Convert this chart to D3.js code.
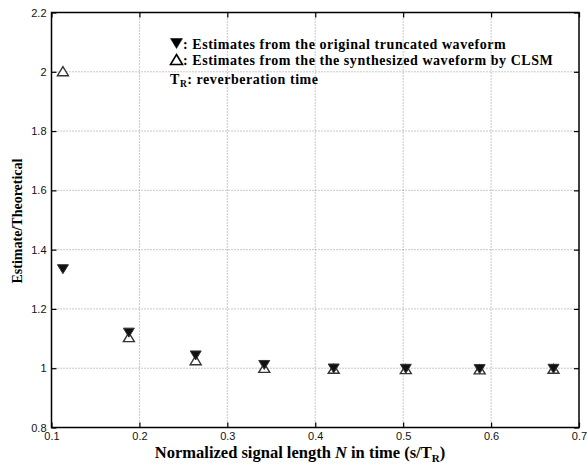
<!DOCTYPE html>
<html>
<head>
<meta charset="utf-8">
<script src="https://cdn.jsdelivr.net/npm/d3@7"></script>
<style>
  body { margin: 0; background: #fff; }
  svg { display: block; }
</style>
</head>
<body>
<div id="chart"></div>
<script>
// --- Data ---
const signalLength = [0.113, 0.188, 0.264, 0.342, 0.421, 0.503, 0.587, 0.671];
const truncatedEst = [1.334, 1.120, 1.043, 1.011, 0.999, 0.998, 0.997, 0.998];
const synthesizedEst = [2.002, 1.105, 1.027, 1.001, 0.998, 0.997, 0.996, 0.998];
const xTicks = [0.1, 0.2, 0.3, 0.4, 0.5, 0.6, 0.7];
const yTicks = [0.8, 1, 1.2, 1.4, 1.6, 1.8, 2, 2.2];
const legendLines = [
  { sym: "down", text: ": Estimates from the original truncated waveform" },
  { sym: "up", text: ": Estimates from the the synthesized waveform by CLSM" }
];

const width = 587, height = 465;
const margin = { top: 12.5, right: 8, bottom: 37.5, left: 51.5 };

const svg = d3.select("#chart").append("svg")
  .attr("width", width)
  .attr("height", height);

const x = d3.scaleLinear().domain([0.1, 0.7]).range([margin.left, width - margin.right]);
const y = d3.scaleLinear().domain([0.8, 2.2]).range([height - margin.bottom, margin.top]);

const tickFont = "'Liberation Sans', Arial, sans-serif";
const serif = "'Liberation Serif', 'Times New Roman', serif";

// grid lines (dotted)
svg.append("g")
  .selectAll("line")
  .data(xTicks.slice(1, -1))
  .join("line")
  .attr("x1", d => x(d)).attr("x2", d => x(d))
  .attr("y1", y(0.8)).attr("y2", y(2.2))
  .attr("stroke", "#777").attr("stroke-width", 0.8)
  .attr("stroke-dasharray", "1,2");

svg.append("g")
  .selectAll("line")
  .data(yTicks.slice(1, -1))
  .join("line")
  .attr("x1", x(0.1)).attr("x2", x(0.7))
  .attr("y1", d => y(d)).attr("y2", d => y(d))
  .attr("stroke", "#777").attr("stroke-width", 0.8)
  .attr("stroke-dasharray", "1,2");

// axes with inward ticks
const fmt = d => (d === 1 || d === 2) ? d3.format("d")(d) : d3.format(".1f")(d);

const bottomAxis = svg.append("g")
  .attr("transform", `translate(0,${y(0.8)})`)
  .call(d3.axisBottom(x).tickValues(xTicks).tickFormat(d3.format(".1f"))
    .tickSizeInner(-5).tickSizeOuter(0).tickPadding(5));

const leftAxis = svg.append("g")
  .attr("transform", `translate(${x(0.1)},0)`)
  .call(d3.axisLeft(y).tickValues(yTicks).tickFormat(fmt)
    .tickSizeInner(-5).tickSizeOuter(0).tickPadding(5));

const topAxis = svg.append("g")
  .attr("transform", `translate(0,${y(2.2)})`)
  .call(d3.axisTop(x).tickValues(xTicks).tickFormat("")
    .tickSizeInner(-5).tickSizeOuter(0));

const rightAxis = svg.append("g")
  .attr("transform", `translate(${x(0.7)},0)`)
  .call(d3.axisRight(y).tickValues(yTicks).tickFormat("")
    .tickSizeInner(-5).tickSizeOuter(0));

[bottomAxis, leftAxis, topAxis, rightAxis].forEach(g => {
  g.select(".domain").remove();
  g.selectAll(".tick line").attr("stroke", "#000").attr("stroke-width", 1.2);
  g.selectAll("text")
    .attr("font-family", tickFont)
    .attr("font-size", "11px")
    .attr("fill", "#111");
});

// frame
svg.append("rect")
  .attr("x", x(0.1)).attr("y", y(2.2))
  .attr("width", x(0.7) - x(0.1))
  .attr("height", y(0.8) - y(2.2))
  .attr("fill", "none")
  .attr("stroke", "#000")
  .attr("stroke-width", 1.5);

// markers
function triPath(cx, cy, dir, w, h) {
  // dir: 1 = up, -1 = down
  const hw = w / 2, hh = h / 2;
  if (dir > 0) return `M${cx},${cy - hh}L${cx + hw},${cy + hh}L${cx - hw},${cy + hh}Z`;
  return `M${cx},${cy + hh}L${cx + hw},${cy - hh}L${cx - hw},${cy - hh}Z`;
}

svg.append("g")
  .selectAll("path")
  .data(signalLength.map((s, i) => ({ s, v: synthesizedEst[i] })))
  .join("path")
  .attr("d", d => triPath(x(d.s), y(d.v), 1, 11, 9))
  .attr("fill", "#fff")
  .attr("stroke", "#333")
  .attr("stroke-width", 1.4);

svg.append("g")
  .selectAll("path")
  .data(signalLength.map((s, i) => ({ s, v: truncatedEst[i] })))
  .join("path")
  .attr("d", d => triPath(x(d.s), y(d.v), -1, 11, 9))
  .attr("fill", "#111")
  .attr("stroke", "#333")
  .attr("stroke-width", 1);

// legend
const legend = svg.append("g")
  .attr("font-family", serif)
  .attr("font-weight", "bold")
  .attr("font-size", "14px")
  .attr("letter-spacing", "0.55px");
legendLines.forEach((l, i) => {
  const by = 48.5 + i * 16;
  legend.append("path")
    .attr("d", triPath(176.5, by - 5, l.sym === "up" ? 1 : -1, 12, 10))
    .attr("fill", l.sym === "up" ? "#fff" : "#000")
    .attr("stroke", "#000")
    .attr("stroke-width", l.sym === "up" ? 1.6 : 0.5);
  legend.append("text").attr("x", 183).attr("y", by).text(l.text);
});
const tr = legend.append("text").attr("x", 170).attr("y", 84);
tr.append("tspan").text("T");
tr.append("tspan").attr("font-size", "9.5px").attr("dy", "3").text("R");
tr.append("tspan").attr("dy", "-3").text(": reverberation time");

// axis titles
const xl = svg.append("text")
  .attr("x", 300)
  .attr("y", 458)
  .attr("text-anchor", "middle")
  .attr("font-family", serif)
  .attr("font-weight", "bold")
  .attr("font-size", "16.5px");
xl.append("tspan").text("Normalized signal length ");
xl.append("tspan").attr("font-style", "italic").text("N");
xl.append("tspan").text(" in time (s/T");
xl.append("tspan").attr("font-size", "11px").attr("dy", "3.5").text("R");
xl.append("tspan").attr("dy", "-3.5").text(")");

svg.append("text")
  .attr("transform", `translate(22,221) rotate(-90)`)
  .attr("text-anchor", "middle")
  .attr("font-family", serif)
  .attr("font-weight", "bold")
  .attr("font-size", "14px")
  .text("Estimate/Theoretical");
</script>
</body>
</html>
